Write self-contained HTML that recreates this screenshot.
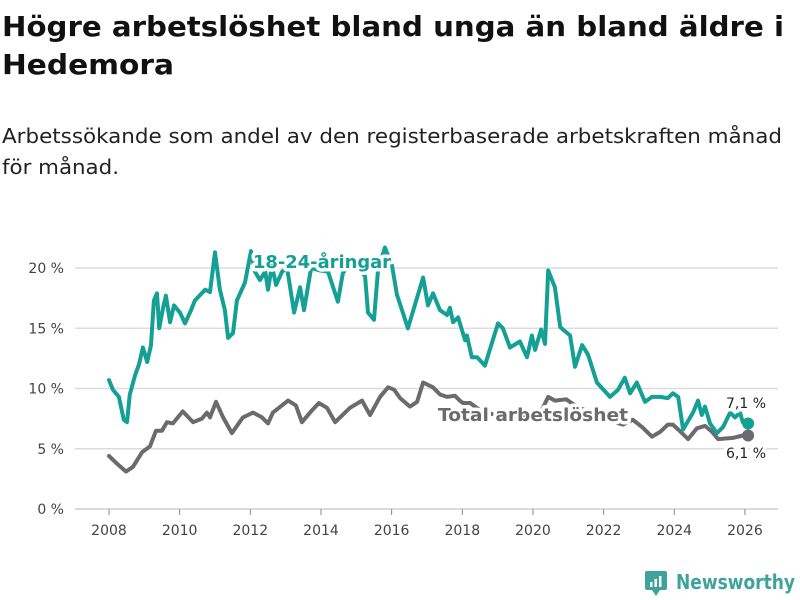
<!DOCTYPE html>
<html><head><meta charset="utf-8"><style>
html,body{margin:0;padding:0;background:#fff;width:800px;height:600px;overflow:hidden}
svg text{font-family:"DejaVu Sans","Liberation Sans",sans-serif}
</style></head><body>
<svg id="chart" width="800" height="600" xmlns="http://www.w3.org/2000/svg">
<text x="2" y="36" font-size="28" font-weight="bold" fill="#111" textLength="782" lengthAdjust="spacingAndGlyphs">Högre arbetslöshet bland unga än bland äldre i</text>
<text x="2" y="74" font-size="28" font-weight="bold" fill="#111" textLength="172" lengthAdjust="spacingAndGlyphs">Hedemora</text>
<text x="2" y="143" font-size="20" fill="#222" textLength="780" lengthAdjust="spacingAndGlyphs">Arbetssökande som andel av den registerbaserade arbetskraften månad</text>
<text x="2" y="174" font-size="20" fill="#222" textLength="117" lengthAdjust="spacingAndGlyphs">för månad.</text>
<g id="grid"></g><g id="xaxis"></g><g id="lines"></g><g id="labels"></g>
<g>
<rect x="645" y="571" width="22" height="19" rx="2" fill="#3fa39a"/>
<path d="M652 590 L656 596 L660 590 Z" fill="#3fa39a"/>
<rect x="650" y="582" width="2.5" height="5" fill="#fff"/><rect x="654.5" y="579" width="2.5" height="8" fill="#fff"/><rect x="659" y="576" width="2.5" height="11" fill="#fff"/>
<text x="676" y="589" font-size="20" font-weight="bold" fill="#3fa39a" font-family="Liberation Sans" textLength="119" lengthAdjust="spacingAndGlyphs">Newsworthy</text>
</g>
</svg>
<script>
const yTicks=[0,5,10,15,20];
const xTicks=[2008,2010,2012,2014,2016,2018,2020,2022,2024,2026];
const youthDates=[2008.00,2008.11,2008.28,2008.42,2008.51,2008.59,2008.74,2008.85,2008.96,2009.08,2009.19,2009.27,2009.36,2009.42,2009.53,2009.61,2009.73,2009.84,2010.01,2010.15,2010.32,2010.43,2010.72,2010.86,2011.00,2011.14,2011.28,2011.37,2011.51,2011.62,2011.85,2012.02,2012.13,2012.27,2012.42,2012.50,2012.61,2012.73,2012.90,2013.04,2013.24,2013.41,2013.52,2013.72,2013.97,2014.20,2014.48,2014.62,2014.82,2015.05,2015.25,2015.33,2015.50,2015.61,2015.81,2016.01,2016.15,2016.46,2016.89,2017.03,2017.17,2017.37,2017.57,2017.65,2017.74,2017.88,2018.08,2018.13,2018.27,2018.42,2018.64,2018.84,2019.01,2019.15,2019.35,2019.63,2019.83,2019.97,2020.06,2020.23,2020.34,2020.43,2020.62,2020.77,2020.85,2021.05,2021.19,2021.39,2021.56,2021.81,2022.18,2022.41,2022.60,2022.75,2022.94,2023.17,2023.37,2023.60,2023.82,2023.96,2024.11,2024.25,2024.53,2024.67,2024.78,2024.87,2025.01,2025.21,2025.38,2025.58,2025.72,2025.86,2025.94,2026.09];
const youthValues=[10.7,9.9,9.3,7.4,7.2,9.5,11.1,12.0,13.4,12.2,13.6,17.3,17.9,15.0,16.7,17.7,15.5,16.9,16.3,15.4,16.5,17.3,18.2,18.0,21.3,18.2,16.5,14.2,14.6,17.3,18.8,21.4,19.7,19.0,19.7,18.2,20.2,18.6,19.7,20.0,16.3,18.4,16.5,20.0,19.8,19.7,17.2,19.6,20.3,20.0,19.3,16.3,15.7,19.7,21.7,20.2,17.8,15.0,19.2,16.9,17.9,16.5,16.1,16.7,15.5,15.9,14.0,14.4,12.6,12.6,11.9,13.8,15.4,15.0,13.4,13.9,12.6,14.4,13.2,14.9,13.7,19.8,18.4,15.1,14.9,14.4,11.8,13.6,12.8,10.5,9.3,9.9,10.9,9.6,10.5,8.9,9.3,9.3,9.2,9.6,9.3,6.6,8.0,9.0,7.8,8.5,7.1,6.3,6.8,8.0,7.6,8.0,7.2,7.1];
const totalDates=[2008.00,2008.25,2008.48,2008.68,2008.93,2009.16,2009.33,2009.50,2009.64,2009.81,2010.09,2010.38,2010.63,2010.77,2010.86,2011.03,2011.23,2011.48,2011.79,2012.08,2012.33,2012.50,2012.64,2013.07,2013.29,2013.46,2013.75,2013.94,2014.17,2014.40,2014.82,2015.16,2015.39,2015.67,2015.90,2016.07,2016.24,2016.52,2016.72,2016.89,2017.17,2017.37,2017.57,2017.79,2017.93,2018.02,2018.22,2018.50,2018.93,2019.35,2019.77,2020.20,2020.43,2020.62,2020.94,2021.19,2021.61,2022.04,2022.32,2022.55,2022.83,2023.09,2023.37,2023.60,2023.82,2023.96,2024.11,2024.39,2024.64,2024.87,2025.07,2025.24,2025.66,2025.94,2026.09];
const totalValues=[4.4,3.7,3.1,3.5,4.7,5.2,6.5,6.5,7.2,7.1,8.1,7.2,7.5,8.0,7.6,8.9,7.6,6.3,7.6,8.0,7.6,7.1,8.0,9.0,8.6,7.2,8.2,8.8,8.4,7.2,8.4,9.0,7.8,9.3,10.1,9.9,9.2,8.5,8.9,10.5,10.1,9.5,9.3,9.4,9.0,8.8,8.8,8.2,7.8,7.8,7.6,7.9,9.3,9.0,9.1,8.6,8.0,7.6,7.2,7.0,7.4,6.8,6.0,6.4,7.0,7.0,6.6,5.8,6.7,6.9,6.4,5.8,5.9,6.1,6.1];
const NS="http://www.w3.org/2000/svg";
const X=y=>109+(y-2008)*35.33;
const Y=v=>509-v*12.05;
function mk(tag,attrs,parent,text){const e=document.createElementNS(NS,tag);for(const k in attrs)e.setAttribute(k,attrs[k]);if(text!==undefined)e.textContent=text;parent.appendChild(e);return e;}
const grid=document.getElementById('grid'),xa=document.getElementById('xaxis'),lines=document.getElementById('lines'),labels=document.getElementById('labels');
yTicks.forEach(t=>{
 const l=mk('line',{x1:75,x2:778,y1:Y(t),y2:Y(t),stroke:t===0?'#cfcfcf':'#dcdcdc','stroke-width':1.5},grid);
 
 
 const tx=mk('text',{x:64,y:Y(t)+5,'text-anchor':'end','font-size':14,fill:'#444'},grid,t+' %');
 
 
});
xTicks.forEach(t=>{
 const l=mk('line',{x1:X(t),x2:X(t),y1:509,y2:515,stroke:'#888','stroke-width':1},xa);
 
 
 const tx=mk('text',{x:X(t),y:535,'text-anchor':'middle','font-size':14,fill:'#444'},xa,String(t));
 
 
});
function pathFor(d,v){return d.map((x,i)=>(i?'L':'M')+X(x).toFixed(1)+' '+Y(v[i]).toFixed(1)).join(' ');}
const gp=mk('path',{d:pathFor(totalDates,totalValues),fill:'none',stroke:'#6b6a6e','stroke-width':4,'stroke-linejoin':'round','stroke-linecap':'round'},lines);


const tp=mk('path',{d:pathFor(youthDates,youthValues),fill:'none',stroke:'#14a095','stroke-width':4,'stroke-linejoin':'round','stroke-linecap':'round'},lines);


const lt=totalDates.length-1,ly=youthDates.length-1;
const d1=mk('circle',{cx:X(totalDates[lt]),cy:Y(totalValues[lt]),r:6,fill:'#6b6a6e'},lines);


const d2=mk('circle',{cx:X(youthDates[ly]),cy:Y(youthValues[ly]),r:6,fill:'#14a095'},lines);


const halo={stroke:'#fff','stroke-width':7,'paint-order':'stroke','stroke-linejoin':'round'};
const l1=mk('text',Object.assign({x:253,y:268,'font-size':18,'font-weight':'bold',fill:'#14a095',textLength:138,lengthAdjust:'spacingAndGlyphs'},halo),labels,'18-24-åringar');


const l2=mk('text',Object.assign({x:438,y:421,'font-size':18,'font-weight':'bold',fill:'#6b6a6e',textLength:190,lengthAdjust:'spacingAndGlyphs'},halo),labels,'Total arbetslöshet');


const v1=mk('text',Object.assign({x:746,y:408,'font-size':14,'text-anchor':'middle',fill:'#222'},halo),labels,'7,1 %');


const v2=mk('text',Object.assign({x:746,y:458,'font-size':14,'text-anchor':'middle',fill:'#222'},halo),labels,'6,1 %');


</script>
</body></html>
